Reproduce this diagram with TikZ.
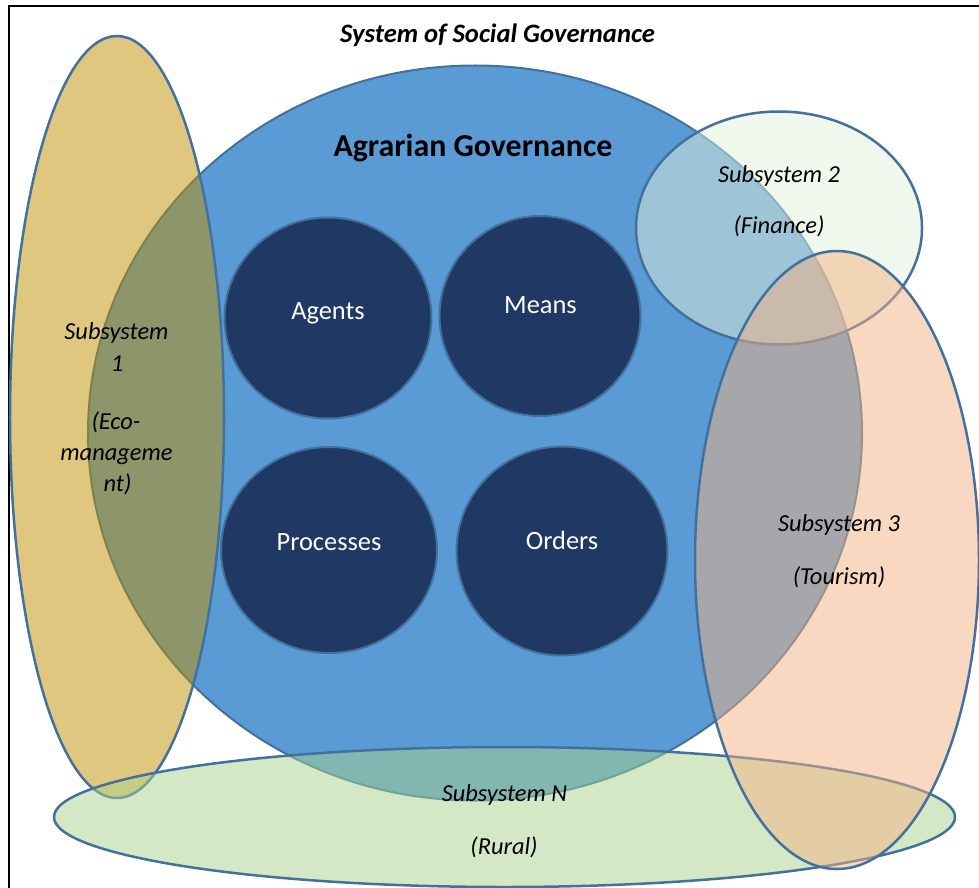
\documentclass[tikz,border=0pt]{standalone}
\usepackage{fontspec}
\setmainfont{Carlito}
\usetikzlibrary{shapes.geometric}
\definecolor{edgeblue}{HTML}{41719C}
\definecolor{bigblue}{HTML}{5B9BD5}
\definecolor{darkblue}{HTML}{203864}
\definecolor{goldfill}{HTML}{BF9000}
\definecolor{palegreen}{HTML}{E2F0D9}
\definecolor{peach}{HTML}{F4B183}
\definecolor{leafgreen}{HTML}{A9D18E}
\begin{document}
\begin{tikzpicture}[x=1bp,y=-1bp,
  oval/.style={ellipse, draw=edgeblue, line width=2.5bp, inner sep=0pt, outer sep=0pt},
  sub/.style={oval, fill opacity=0.5, draw opacity=1},
  core/.style={oval, fill=darkblue, line width=2bp},
  lab/.style={anchor=base, inner sep=0pt, font=\fontsize{24.5}{29}\selectfont\itshape},
  corelab/.style={anchor=base, inner sep=0pt, text=white, font=\fontsize{26.5}{31}\selectfont}]
\useasboundingbox (0,0) rectangle (979,888);
\clip (0,0) rectangle (979,888);
\draw[line width=2.5bp] (9,6) rectangle (995,905);
% main circle
\node[oval, fill=bigblue, line width=2bp, minimum width=774bp, minimum height=735bp] (ag) at (475,433) {};
% core circles
\node[core, minimum width=207bp, minimum height=201bp] (agents) at (328,318) {};
\node[core, minimum width=201bp, minimum height=200bp] (means) at (540,316) {};
\node[core, minimum width=216bp, minimum height=206bp] (proc) at (329,550) {};
\node[core, minimum width=211bp, minimum height=209bp] (ord) at (562,551) {};
% subsystems
\node[sub, fill=goldfill, minimum width=214bp, minimum height=762bp] (s1) at (117,417) {};
\node[sub, fill=palegreen, minimum width=286bp, minimum height=233bp] (s2) at (779,228) {};
\node[sub, fill=leafgreen, minimum width=901bp, minimum height=140bp] (sn) at (504.5,817) {};
\node[sub, fill=peach, minimum width=284bp, minimum height=618bp] (s3) at (837,560) {};
% texts
\node[anchor=base, inner sep=0pt, font=\fontsize{26.7}{31}\selectfont\bfseries\itshape] (title) at (497.5,42) {System of Social Governance};
\node[anchor=base, inner sep=0pt, font=\fontsize{32}{37}\selectfont\bfseries] (agt) at (473,156) {Agrarian Governance};
\node[corelab] (agentsl) at (328,319) {Agents};
\node[corelab] (meansl) at (540.5,313) {Means};
\node[corelab] (procl) at (329,550) {Processes};
\node[corelab] (ordl) at (562,549) {Orders};
\node[lab] (s1a) at (116.5,339) {Subsystem};
\node[lab] (s1b) at (117,371) {1};
\node[lab] (s1c) at (116,429) {(Eco-};
\node[lab] (s1d) at (116.5,460) {manageme};
\node[lab] (s1e) at (117.5,491) {nt)};
\node[lab] (s2a) at (779,182) {Subsystem 2};
\node[lab] (s2b) at (779,233) {(Finance)};
\node[lab] (s3a) at (839,531) {Subsystem 3};
\node[lab] (s3b) at (839,584) {(Tourism)};
\node[lab] (sna) at (504.5,801) {Subsystem N};
\node[lab] (snb) at (504,854) {(Rural)};
\end{tikzpicture}
\end{document}
